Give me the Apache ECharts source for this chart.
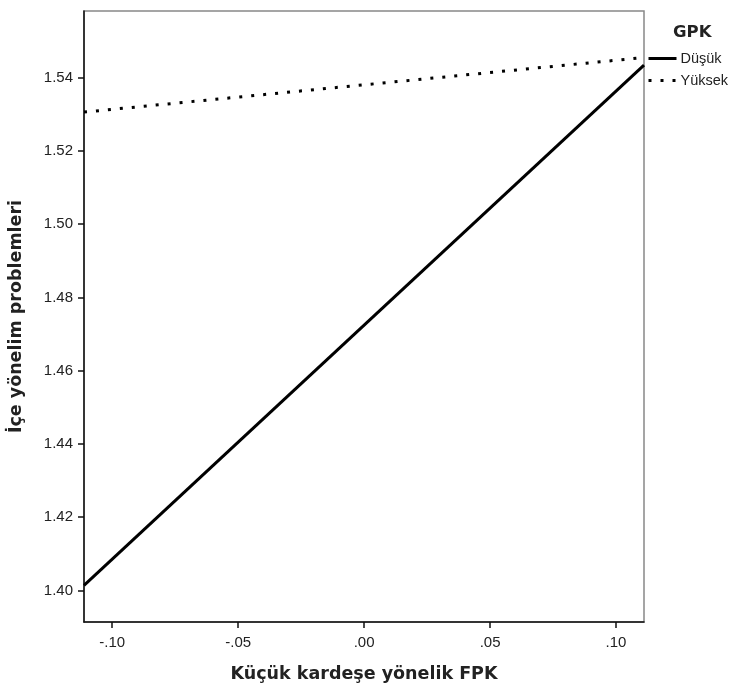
<!DOCTYPE html>
<html>
<head>
<meta charset="utf-8">
<script src="https://cdn.jsdelivr.net/npm/echarts@6/dist/echarts.min.js"></script>
<style>html,body{margin:0;padding:0;background:#fff}#c{width:737px;height:688px}</style>
</head>
<body>
<div id="c"></div>
<script>
const xValues = [-0.1112, 0.1111];
const dusuk = [1.4014, 1.5434];
const yuksek = [1.5306, 1.5455];
const xTicks = [-0.10, -0.05, 0.00, 0.05, 0.10];
const yTicks = [1.40, 1.42, 1.44, 1.46, 1.48, 1.50, 1.52, 1.54];
const seriesNames = ['Düşük', 'Yüksek'];
const legendTitle = 'GPK';
const xName = 'Küçük kardeşe yönelik FPK';
const yName = 'İçe yönelim problemleri';

const FONT = '"Liberation Sans", Arial, sans-serif';
const BOLD = '"DejaVu Sans", sans-serif';
const chart = echarts.init(document.getElementById('c'));
const fmtX = v => {
  const s = Math.abs(v).toFixed(2).replace(/^0/, '');
  return (v < -1e-9 ? '-' : '') + s;
};
chart.setOption({
  animation: false,
  title: {text: legendTitle, left: 673, top: 24, padding: 0, textStyle: {fontFamily: BOLD, fontSize: 16.5, fontWeight: 'bold', color: '#222'}},
  legend: {
    orient: 'vertical', left: 647, top: 51, padding: 0, itemWidth: 28, itemHeight: 14, itemGap: 7,
    itemStyle: {opacity: 0},
    lineStyle: {width: 3},
    textStyle: {fontFamily: FONT, fontSize: 14.5, color: '#222', padding: [0, 0, 0, -1]},
    data: seriesNames
  },
  grid: {left: 84, right: 93, top: 11, bottom: 66, outerBoundsMode: 'none', containLabel: false,
         show: true, borderColor: '#888', borderWidth: 1.5, backgroundColor: 'transparent'},
  xAxis: {
    type: 'value', min: xValues[0], max: xValues[1],
    name: xName, nameLocation: 'middle', nameGap: 43,
    nameTextStyle: {fontFamily: BOLD, fontSize: 17.5, fontWeight: 'bold', color: '#222'},
    splitLine: {show: false},
    axisLine: {show: true, onZero: false, lineStyle: {color: '#111', width: 1.5}},
    axisTick: {show: true, length: 6, lineStyle: {color: '#111', width: 1.5}, customValues: xTicks},
    axisLabel: {fontFamily: FONT, fontSize: 15, color: '#222', margin: 13, customValues: xTicks, formatter: fmtX}
  },
  yAxis: {
    type: 'value', min: 1.3914, max: 1.5582,
    name: yName, nameLocation: 'middle', nameGap: 59, nameRotate: 90,
    nameTextStyle: {fontFamily: BOLD, fontSize: 17.5, fontWeight: 'bold', color: '#222'},
    splitLine: {show: false},
    axisLine: {show: true, onZero: false, lineStyle: {color: '#111', width: 1.5}},
    axisTick: {show: true, length: 6, lineStyle: {color: '#111', width: 1.5}, customValues: yTicks},
    axisLabel: {fontFamily: FONT, fontSize: 15, color: '#222', margin: 11, customValues: yTicks, formatter: v => v.toFixed(2)}
  },
  series: [
    {name: seriesNames[0], type: 'line', symbol: 'none', data: xValues.map((x, i) => [x, dusuk[i]]),
     lineStyle: {color: '#000', width: 3, type: 'solid'}, itemStyle: {color: '#000'}},
    {name: seriesNames[1], type: 'line', symbol: 'none', data: xValues.map((x, i) => [x, yuksek[i]]),
     lineStyle: {color: '#000', width: 3, type: [3, 9]}, itemStyle: {color: '#000'}}
  ]
});
</script>
</body>
</html>
